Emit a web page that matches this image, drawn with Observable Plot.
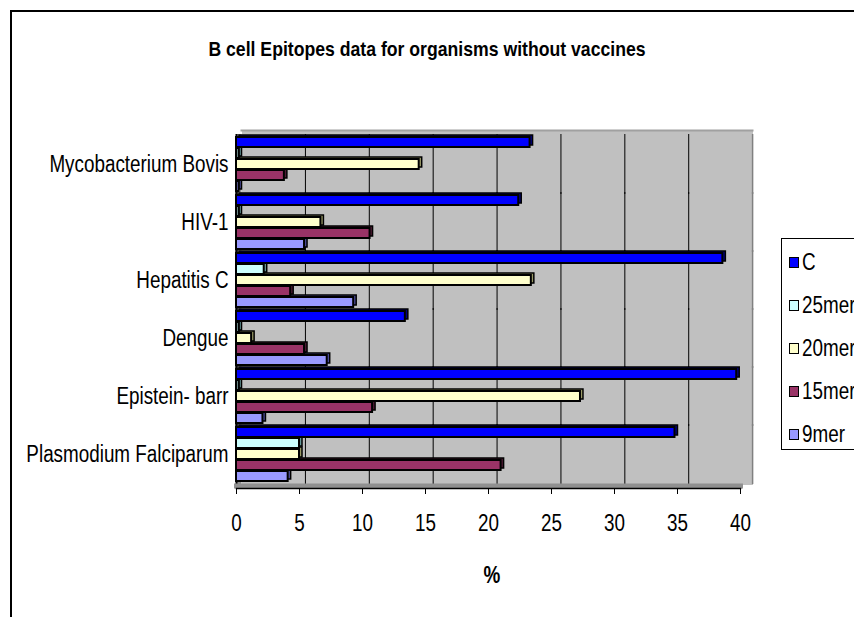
<!DOCTYPE html>
<html><head><meta charset="utf-8">
<script src="https://cdn.jsdelivr.net/npm/d3@7"></script>
<script src="https://cdn.jsdelivr.net/npm/@observablehq/plot@0.6"></script>
<style>
body{margin:0;background:#fff;}
#wrap{position:relative;width:854px;height:617px;overflow:hidden;font-family:"Liberation Sans",Arial,sans-serif;}
#frame{position:absolute;left:10px;top:10px;width:900px;height:700px;border:2px solid #000;box-sizing:border-box;}
#title{position:absolute;top:37px;left:0;width:854px;text-align:center;font-weight:bold;font-size:21px;transform:scaleX(0.84);transform-origin:427px 0;}
#xlabel{position:absolute;top:562px;left:452px;width:80px;text-align:center;font-weight:bold;font-size:23px;transform:scaleX(0.82);}
#legend{position:absolute;left:781px;top:238px;width:120px;height:212px;border:1px solid #000;background:#fff;box-sizing:border-box;}
.item{position:absolute;left:7px;font-size:23px;display:flex;align-items:center;line-height:1;white-space:nowrap;}
.sw{width:8px;height:9px;border:1.5px solid #000;margin-right:3px;flex:none;}
.lt{display:inline-block;transform:scaleX(0.82);transform-origin:0 50%;}
#chart{position:absolute;left:0;top:0;}
</style></head>
<body>
<div id="wrap">
  <div id="frame"></div>
  <div id="chart"></div>
  <div id="title">B cell Epitopes data for organisms without vaccines</div>
  <div id="xlabel">%</div>
  <div id="legend"></div>
</div>
<script>
// categories, bottom to top as in the picture
const categories = ["Plasmodium Falciparum","Epistein- barr","Dengue","Hepatitis C","HIV-1","Mycobacterium Bovis"];
const series = ["C","25mer","20mer","15mer","9mer"];
const valuesC     = [34.8, 39.7, 13.4, 38.6, 22.4, 23.3];
const values25mer = [5.0, 0.2, 0.2, 2.2, 0.2, 0.2];
const values20mer = [5.0, 27.3, 1.2, 23.4, 6.7, 14.5];
const values15mer = [21.0, 10.8, 5.4, 4.3, 10.6, 3.8];
const values9mer  = [4.1, 2.1, 7.2, 9.3, 5.4, 0.2];
const xTicks = [0,5,10,15,20,25,30,35,40];
const seriesColors = ["#0000ff","#ccffff","#ffffcc","#993366","#9999ff"];
const sideColors   = ["#000080","#669999","#999966","#4d1a33","#4d4d99"];

const seriesValues = [valuesC, values25mer, values20mer, values15mer, values9mer];
const data = [];
categories.forEach((cat, i) => series.forEach((s, j) => data.push({cat, series: s, value: seriesValues[j][i], idx: j})));

// back wall of the 3D chart sits slightly right of and wider than the front axis
const backWall = v => 0.4 + v * 1.014;

const chart = Plot.plot({
  width: 854, height: 617,
  marginLeft: 236, marginRight: 114, marginTop: 133, marginBottom: 133,
  style: {fontFamily: '"Liberation Sans",Arial,sans-serif', color: "#000", background: "transparent"},
  x: {domain: [0, 40]},
  fy: {domain: categories.slice().reverse(), padding: 0},
  y: {domain: series, paddingInner: 0.06, paddingOuter: 0.1, axis: null},
  color: {type: "identity"},
  marks: [
    Plot.frame({fill: "#c0c0c0", stroke: null, dx: 5, insetRight: -7, insetTop: -1, insetBottom: -1, shapeRendering: "crispEdges"}),
    Plot.frame({facetAnchor: "top", fill: "#c0c0c0", stroke: null, dx: 5, insetRight: -7, insetTop: -5, shapeRendering: "crispEdges"}),
    Plot.frame({facetAnchor: "top", anchor: "top", stroke: "#a0a0a0", strokeWidth: 2, dx: 5, insetRight: -7, insetTop: -5}),
    Plot.ruleX(xTicks.slice(1, -1), {x: backWall, stroke: "#000", strokeWidth: 1, insetTop: -1, insetBottom: -1}),
    Plot.ruleX(xTicks.slice(-1), {x: backWall, stroke: "#808080", strokeWidth: 1.5, insetTop: -1, insetBottom: -1}),
    Plot.ruleX([0], {x: d => d, dx: 2.5, stroke: "#909090", strokeWidth: 5, insetTop: -1, insetBottom: -1}),
    Plot.ruleX([0], {x: d => d, stroke: "#000", strokeWidth: 2, insetTop: -1, insetBottom: -1}),
    Plot.frame({anchor: "bottom", facetAnchor: "bottom", stroke: "#909090", strokeWidth: 5, dy: 2.5}),
    Plot.frame({anchor: "bottom", facetAnchor: "bottom", stroke: "#000", strokeWidth: 1.5, dy: 5}),
    Plot.barX(data, {fy: "cat", y: "series", x: "value", fill: d => sideColors[d.idx], stroke: "#000", strokeWidth: 1.5, dx: 3, dy: -2}),
    Plot.barX(data, {fy: "cat", y: "series", x: "value", fill: d => seriesColors[d.idx], stroke: "#000", strokeWidth: 2}),
    Plot.axisX({ticks: xTicks, anchor: "bottom", dy: 5, fontSize: 23, tickSize: 6, tickPadding: 20, label: null}),
    Plot.axisFy({anchor: "left", fontSize: 23, tickSize: 0, tickPadding: 8, label: null})
  ]
});
// Arial-Narrow-like condensed text: append a horizontal squeeze after the text's own translate
chart.querySelectorAll("text").forEach(t => {
  const tr = t.getAttribute("transform") || "";
  t.setAttribute("transform", tr + " scale(0.82,1)");
});
document.getElementById("chart").appendChild(chart);

const legend = document.getElementById("legend");
series.forEach((s, j) => {
  const it = document.createElement("div");
  it.className = "item";
  it.style.top = (12 + j * 43) + "px";
  it.innerHTML = `<span class="sw" style="background:${seriesColors[j]}"></span><span class="lt">${s}</span>`;
  legend.appendChild(it);
});
</script>
</body></html>
